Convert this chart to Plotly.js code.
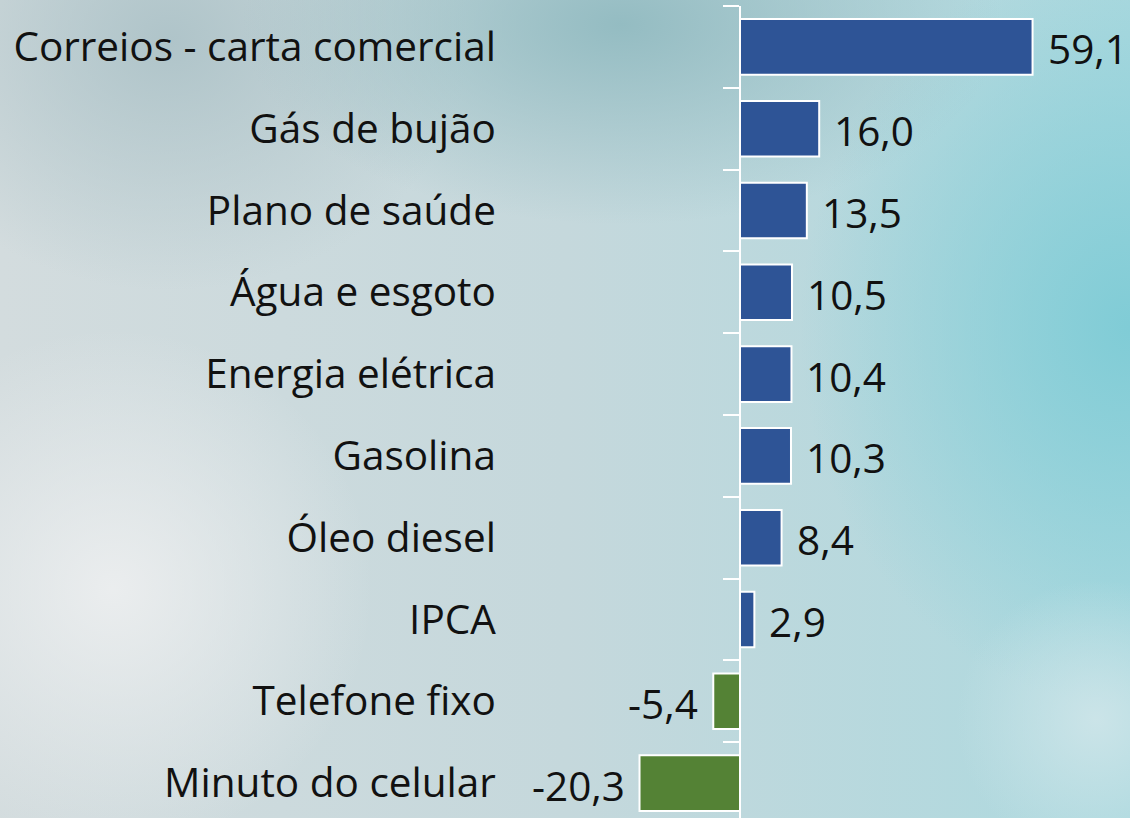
<!DOCTYPE html>
<html>
<head>
<meta charset="utf-8">
<script src="https://cdn.plot.ly/plotly-3.0.1.min.js"></script>
<style>
html, body { margin:0; padding:0; width:1130px; height:818px; overflow:hidden; }
body {
  background:
    radial-gradient(ellipse 260px 260px at 10% 72%, rgba(236,238,239,0.95), rgba(236,238,239,0) 100%),
    radial-gradient(ellipse 140px 140px at 97% 88%, rgba(206,229,233,0.9), rgba(206,229,233,0) 100%),
    radial-gradient(ellipse 330px 380px at 100% 40%, rgba(128,204,214,1), rgba(128,204,214,0) 100%),
    radial-gradient(ellipse 380px 200px at 55% 3%, rgba(148,188,194,1), rgba(148,188,194,0) 100%),
    radial-gradient(ellipse 300px 250px at 15% 5%, rgba(175,196,201,1), rgba(175,196,201,0) 100%),
    linear-gradient(90deg, #d3dcde 0%, #c5d8dc 50%, #acd9df 100%);
}
#chart { width:1130px; height:830px; }
</style>
</head>
<body>
<div id="chart"></div>
<script>
const categories = ["Correios - carta comercial","Gás de bujão","Plano de saúde","Água e esgoto","Energia elétrica","Gasolina","Óleo diesel","IPCA","Telefone fixo","Minuto do celular"];
const values = [59.1, 16.0, 13.5, 10.5, 10.4, 10.3, 8.4, 2.9, -5.4, -20.3];
const positiveColor = "#2E5496";
const negativeColor = "#548235";

const pxPerUnit = 4.95;
const zeroPx = 740;
const W = 1130;
const xRange = [-zeroPx / pxPerUnit, (W - zeroPx) / pxPerUnit];

const fmt = v => v.toFixed(1).replace('.', ',');
const FONT = 'Open Sans, Noto Sans, sans-serif';

const trace = {
  type: 'bar',
  orientation: 'h',
  y: categories,
  x: values,
  marker: {
    color: values.map(v => v >= 0 ? positiveColor : negativeColor),
    line: { color: '#ffffff', width: 2 }
  },
  hoverinfo: 'none'
};

const annotations = categories.map((c, i) => ({
  x: values[i], y: c, xref: 'x', yref: 'y',
  text: fmt(values[i]),
  showarrow: false,
  xanchor: values[i] >= 0 ? 'left' : 'right',
  xshift: values[i] >= 0 ? 13 : -13,
  yshift: -2,
  font: { family: FONT, size: 40.5, color: '#111111' }
}));

const layout = {
  width: 1130, height: 830,
  margin: { l: 0, r: 0, t: 6, b: 6 },
  paper_bgcolor: 'rgba(0,0,0,0)',
  plot_bgcolor: 'rgba(0,0,0,0)',
  showlegend: false,
  bargap: 0.32,
  xaxis: {
    range: xRange, showgrid: false, zeroline: false, showticklabels: false, showline: false, fixedrange: true
  },
  yaxis: {
    type: 'category',
    autorange: 'reversed',
    anchor: 'free',
    position: zeroPx / W,
    showline: true, linecolor: '#ffffff', linewidth: 2,
    ticks: 'outside', tickson: 'boundaries', ticklen: 16, tickcolor: '#ffffff', tickwidth: 2,
    showgrid: false,
    ticklabelstandoff: 235,
    tickfont: { family: FONT, size: 40.5, color: '#111111' },
    fixedrange: true
  },
  annotations: annotations
};

Plotly.newPlot('chart', [trace], layout, { displayModeBar: false, staticPlot: true });
</script>
</body>
</html>
